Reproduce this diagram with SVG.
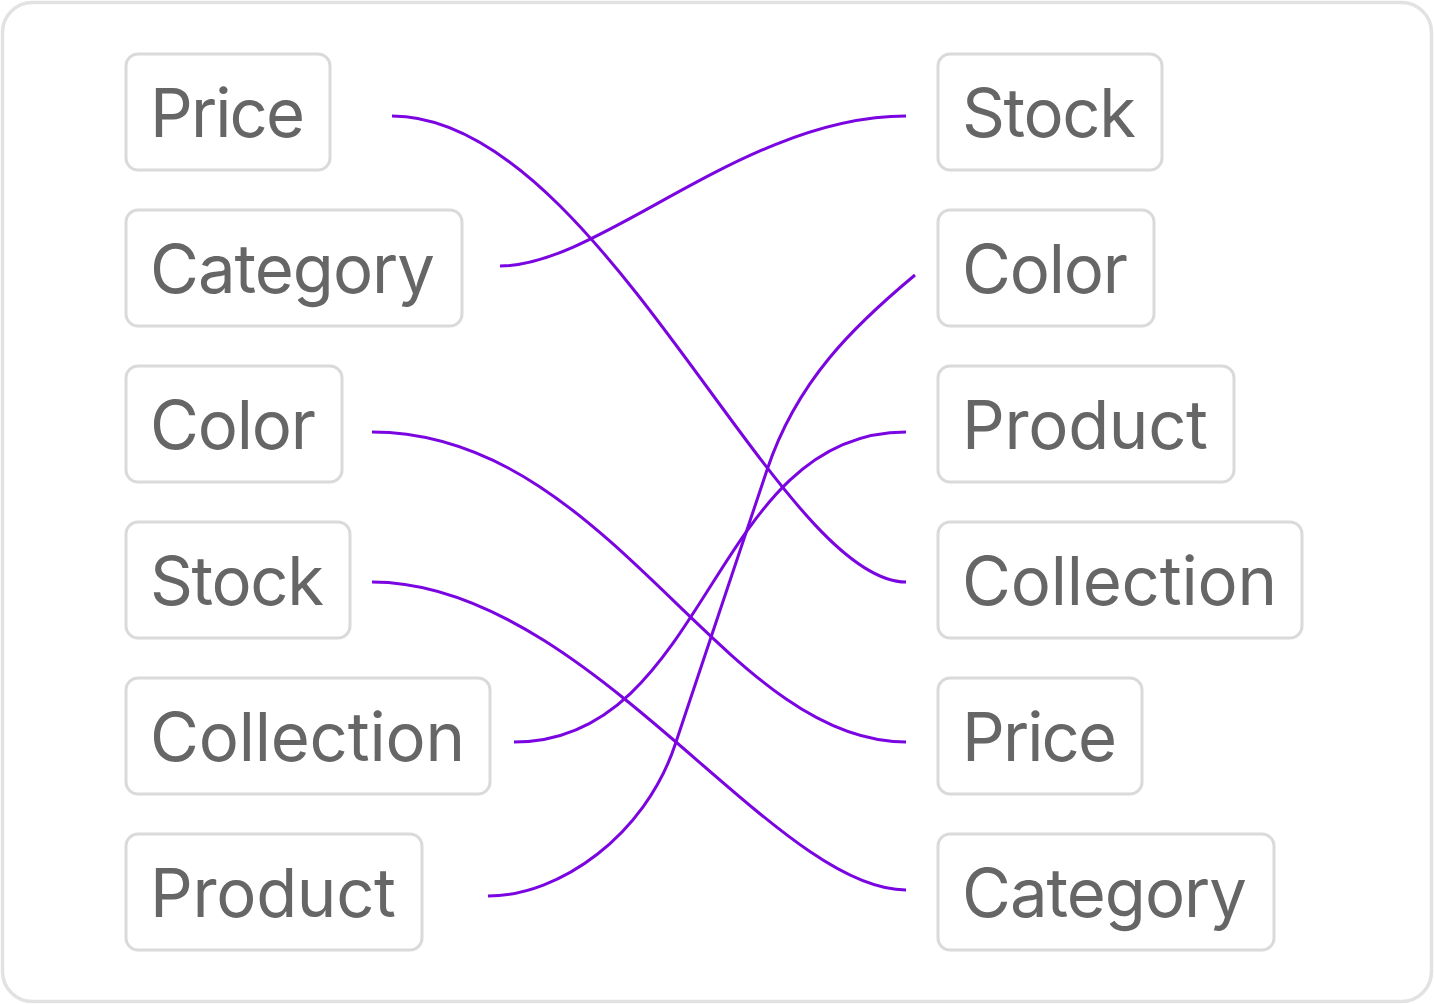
<svg xmlns="http://www.w3.org/2000/svg" width="1434" height="1004" viewBox="0 0 1434 1004">
<style>
.frame{fill:#ffffff;stroke:#e2e2e2;stroke-width:3.5}
.box{fill:#ffffff;stroke:#dadada;stroke-width:3}
.lbl{font-family:Inter,"Liberation Sans",Arial,sans-serif;font-size:67px;fill:#666666}
.wire{fill:none;stroke:#7a05e0;stroke-width:3;stroke-linecap:butt}
</style>
<rect class="frame" x="2.5" y="2.5" width="1429" height="999" rx="30"/>
<g id="L-price"><rect class="box" x="126" y="54" width="204" height="116" rx="12"/><text class="lbl" x="150" y="137" textLength="155">Price</text></g>
<g id="L-category"><rect class="box" x="126" y="210" width="336" height="116" rx="12"/><text class="lbl" x="150" y="293" textLength="285">Category</text></g>
<g id="L-color"><rect class="box" x="126" y="366" width="216" height="116" rx="12"/><text class="lbl" x="150" y="449" textLength="166">Color</text></g>
<g id="L-stock"><rect class="box" x="126" y="522" width="224" height="116" rx="12"/><text class="lbl" x="150" y="605" textLength="174">Stock</text></g>
<g id="L-collection"><rect class="box" x="126" y="678" width="364" height="116" rx="12"/><text class="lbl" x="150" y="761" textLength="315">Collection</text></g>
<g id="L-product"><rect class="box" x="126" y="834" width="296" height="116" rx="12"/><text class="lbl" x="150" y="917" textLength="246">Product</text></g>
<g id="R-stock"><rect class="box" x="938" y="54" width="224" height="116" rx="12"/><text class="lbl" x="962" y="137" textLength="174">Stock</text></g>
<g id="R-color"><rect class="box" x="938" y="210" width="216" height="116" rx="12"/><text class="lbl" x="962" y="293" textLength="166">Color</text></g>
<g id="R-product"><rect class="box" x="938" y="366" width="296" height="116" rx="12"/><text class="lbl" x="962" y="449" textLength="246">Product</text></g>
<g id="R-collection"><rect class="box" x="938" y="522" width="364" height="116" rx="12"/><text class="lbl" x="962" y="605" textLength="315">Collection</text></g>
<g id="R-price"><rect class="box" x="938" y="678" width="204" height="116" rx="12"/><text class="lbl" x="962" y="761" textLength="155">Price</text></g>
<g id="R-category"><rect class="box" x="938" y="834" width="336" height="116" rx="12"/><text class="lbl" x="962" y="917" textLength="285">Category</text></g>
<g id="connectors">
<path class="wire" d="M392 116 C600 116 778 582 906 582"/>
<path class="wire" d="M500 266 C601 266 744 116 906 116"/>
<path class="wire" d="M372 432 C610 432 722 742 906 742"/>
<path class="wire" d="M372 582 C586 582 772 890 906 890"/>
<path class="wire" d="M514 742 C710 742 710 432 906 432"/>
<path class="wire" d="M488 896 C560 896 645 835 675 745 C705 655 739 554 767 470 C797 380 855 325 915 275"/>
</g>
</svg>
